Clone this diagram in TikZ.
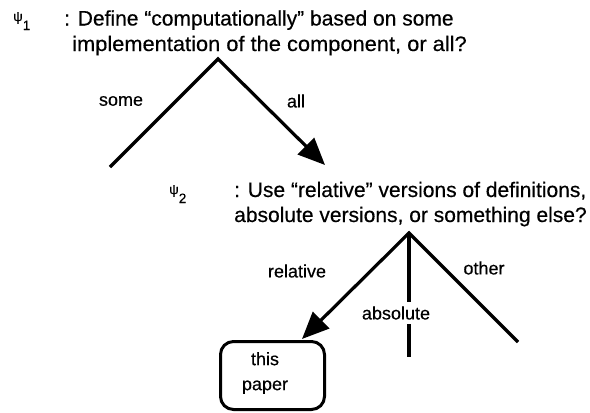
\documentclass[tikz,border=0pt]{standalone}
\usepackage{fontspec}
\setmainfont{Liberation Sans}[UprightFeatures={FakeBold=0.4}]
\usetikzlibrary{arrows.meta}
\begin{document}
\begin{tikzpicture}[x=1pt,y=-1pt,
  body/.style={inner sep=0pt, font=\fontsize{21}{25}\selectfont, anchor=base west},
  lab/.style={inner sep=0pt, font=\fontsize{18}{25}\selectfont},
  psi/.style={inner sep=0pt, font=\fontsize{13.5}{15}\selectfont, anchor=base west},
  branch/.style={line width=3.2pt, line join=miter},
  tip/.style={-{Triangle[length=27pt,width=23pt]}},
  rtip/.style={{Triangle[length=27pt,width=23pt]}-},
  box/.style={draw, line width=3pt, rounded corners=13pt, minimum width=104pt, minimum height=68pt, inner sep=0pt}]
\useasboundingbox (0,0) rectangle (590,413);
% question 1
\node[psi] (psi1) at (13,21) {ψ\raisebox{-9pt}{1}};
\node[body] (q1a) at (64,25.5) {: Define “computationally” based on some};
\node[body] (q1b) at (72,51) {\scalebox{1.04}[1]{implementation of the component, or all?}};
% tree 1
\coordinate (a1) at (218,59);
\coordinate (l1) at (110,167);
\coordinate (t1) at (325,165);
\draw[branch, tip] (l1) -- (a1) -- (t1);
\node[lab] (some) at (121,101) {some};
\node[lab] (all) at (296,101) {all};
% question 2
\node[psi] (psi2) at (169,194) {ψ\raisebox{-9pt}{2}};
\node[body] (q2a) at (234,197) {: Use “relative” versions of definitions,};
\node[body] (q2b) at (234,222) {absolute versions, or something else?};
% tree 2
\node[box] (paper) at (272.5,375.5) {};
\node[lab, align=center] (papertext) at (265,373) {this\\paper};
\coordinate (a2) at (409,233);
\coordinate (tipR) at (302,339);
\coordinate (r2) at (518,342);
\coordinate (m2) at (409,357);
\draw[branch, rtip] (tipR) -- (a2) -- (r2);
\draw[branch] (a2) -- (m2);
\node[lab, fill=white, inner xsep=2pt, inner ysep=4pt] (abs) at (396,313) {absolute};
\node[lab] (rel) at (297,271) {relative};
\node[lab] (oth) at (484,268) {other};
\end{tikzpicture}
\end{document}
